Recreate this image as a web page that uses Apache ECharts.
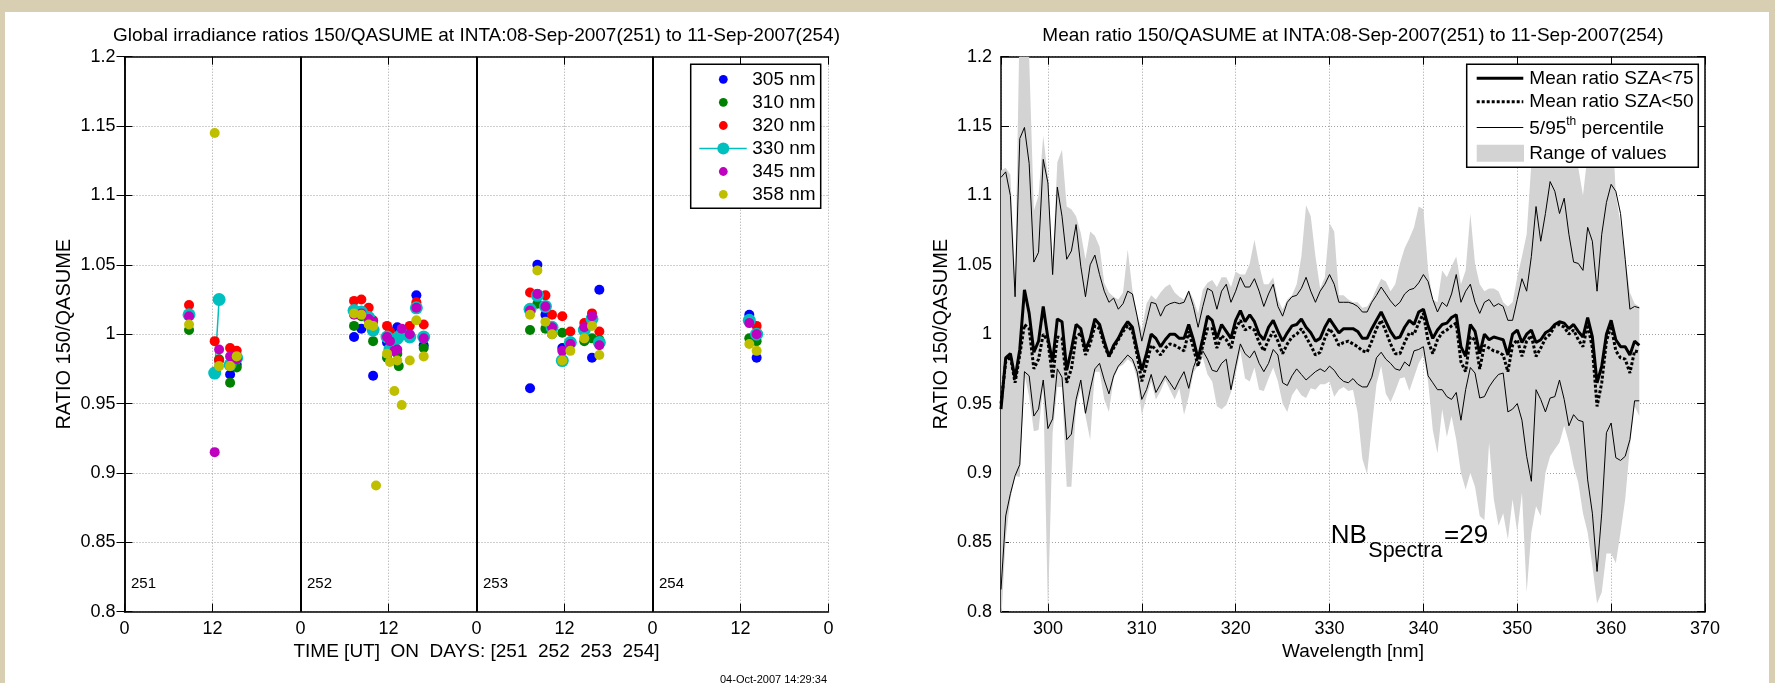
<!DOCTYPE html>
<html><head><meta charset="utf-8">
<script src="https://cdn.jsdelivr.net/npm/echarts@6/dist/echarts.min.js"></script>
<style>html,body{margin:0;padding:0;background:#d8ceb2;}#c{width:1775px;height:683px;}</style>
</head><body><div id="c"></div>
<script>
// ---------- LEFT PANEL DATA: [hour since start of day 251, ratio] ----------
const dayNames = ['251','252','253','254'];
const daySeparators = [24, 48, 72];
const timeTickLabels = ['0','12'];
const s305 = [[8.8,1.013],[14.4,0.971],[15.3,0.978],[31.3,0.998],[32.3,1.004],[33.9,0.970],[35.8,0.994],[36.2,0.992],[37.2,1.005],[39.8,1.028],[40.8,0.992],[55.3,0.961],[56.3,1.050],[57.4,1.014],[59.7,0.990],[63.75,0.983],[64.75,1.032],[85.2,1.014],[86.2,0.983]];
const s310 = [[8.8,1.003],[12.9,0.982],[14.4,0.965],[15.3,0.976],[31.3,1.006],[32.3,1.013],[33.9,0.995],[35.8,0.983],[36.8,0.988],[37.2,0.986],[37.4,0.977],[40.8,0.990],[55.3,1.003],[56.3,1.022],[57.4,1.004],[58.3,1.000],[59.7,1.001],[62.7,0.995],[63.75,0.997],[64.75,0.996],[85.2,0.997],[86.2,0.995]];
const s320 = [[8.8,1.021],[12.3,0.995],[12.9,0.981],[14.4,0.990],[15.3,0.988],[31.3,1.024],[32.3,1.025],[33.3,1.019],[33.9,1.010],[35.8,1.006],[36.2,1.002],[36.8,0.991],[38.9,1.006],[39.8,1.023],[40.8,1.007],[55.3,1.030],[56.3,1.029],[57.4,1.028],[58.3,1.014],[59.7,1.013],[60.8,1.002],[62.7,1.008],[63.75,1.015],[64.75,1.002],[86.2,1.006]];
const s330 = [[8.8,1.014],[null,null],[12.3,0.972],[12.9,1.025],[null,null],[14.4,0.978],[null,null],[15.3,0.983],[null,null],
  [31.3,1.017],[null,null],[32.3,1.016],[null,null],[33.3,1.012],[null,null],[33.9,1.003],[null,null],[35.8,0.998],[null,null],[36.2,0.989],[null,null],[36.8,0.996],[null,null],[37.2,0.997],[null,null],[37.8,1.000],[null,null],[38.9,0.998],[null,null],[39.8,1.019],[null,null],[40.8,0.998],[null,null],
  [55.3,1.018],[null,null],[56.3,1.028],[null,null],[57.4,1.020],[null,null],[58.3,1.005],[null,null],[59.7,0.981],[null,null],[60.8,0.994],[null,null],[62.7,1.003],[null,null],[63.75,1.011],[null,null],[64.75,0.994],[null,null],
  [85.2,1.010],[null,null],[86.2,1.000]];
const s345 = [[8.8,1.013],[12.3,0.915],[12.9,0.989],[14.4,0.984],[15.3,0.982],[31.3,1.014],[32.3,1.015],[33.3,1.011],[33.9,1.009],[35.8,0.998],[36.2,0.995],[36.8,0.988],[37.2,0.989],[37.8,1.004],[38.9,1.000],[39.8,1.019],[40.8,0.997],[55.3,1.017],[56.3,1.029],[57.4,1.020],[58.3,1.005],[59.7,0.988],[60.8,0.993],[62.7,1.005],[63.75,1.013],[64.75,0.992],[85.2,1.008],[86.2,1.000]];
const s358 = [[8.8,1.007],[12.3,1.145],[12.9,0.977],[14.4,0.977],[15.3,0.984],[31.3,1.015],[32.3,1.014],[33.3,1.007],[33.9,1.006],[34.3,0.891],[35.8,0.986],[36.2,0.980],[36.8,0.959],[37.2,0.981],[37.8,0.949],[38.9,0.981],[39.8,1.010],[40.8,0.984],[55.3,1.014],[56.3,1.046],[57.4,1.009],[58.3,1.000],[59.7,0.981],[60.8,0.988],[62.7,0.997],[63.75,1.006],[64.75,0.985],[85.2,0.993],[86.2,0.988]];
const leftNames = ['305 nm','310 nm','320 nm','330 nm','345 nm','358 nm'];
const leftColors = ['#0000ff','#008000','#ff0000','#00bfbf','#bf00bf','#bfbf00'];

// ---------- RIGHT PANEL DATA ----------
const wl = [295,295.5,296,296.5,297,297.5,298,298.5,299,299.5,300,300.5,301,301.5,302,302.5,303,303.5,304,304.5,305,305.5,306,306.5,307,307.5,308,308.5,309,309.5,310,310.5,311,311.5,312,312.5,313,313.5,314,314.5,315,315.5,316,316.5,317,317.5,318,318.5,319,319.5,320,320.5,321,321.5,322,322.5,323,323.5,324,324.5,325,325.5,326,326.5,327,327.5,328,328.5,329,329.5,330,330.5,331,331.5,332,332.5,333,333.5,334,334.5,335,335.5,336,336.5,337,337.5,338,338.5,339,339.5,340,340.5,341,341.5,342,342.5,343,343.5,344,344.5,345,345.5,346,346.5,347,347.5,348,348.5,349,349.5,350,350.5,351,351.5,352,352.5,353,353.5,354,354.5,355,355.5,356,356.5,357,357.5,358,358.5,359,359.5,360,360.5,361,361.5,362,362.5,363];
const mean75 = [0.946,0.983,0.986,0.968,0.989,1.032,1.015,0.987,0.995,1.020,
0.997,0.980,1.011,1.009,0.974,0.989,1.007,1.004,0.989,0.997,
1.011,1.007,0.995,0.984,0.992,0.997,1.004,1.009,1.005,0.989,
0.974,0.986,1.000,0.997,0.991,0.996,1.000,1.000,0.997,0.997,
1.007,0.996,0.982,0.997,1.013,1.010,0.997,1.007,1.002,0.997,
1.010,1.017,1.009,1.014,1.009,1.000,0.996,1.005,1.010,1.002,
0.995,1.001,1.006,1.007,1.011,1.005,1.001,0.995,0.997,1.005,
1.011,1.006,1.001,1.004,1.004,1.004,1.002,0.997,0.997,1.004,
1.010,1.016,1.009,1.002,0.997,0.998,1.005,1.010,1.007,1.016,
1.018,1.006,0.997,1.003,1.007,1.008,1.012,1.014,0.991,0.984,
1.007,1.002,0.986,1.000,0.996,0.998,0.997,0.996,0.985,1.000,
1.003,0.994,1.000,1.003,0.994,0.996,1.001,1.003,1.007,1.009,
1.008,1.004,1.007,1.002,0.998,1.012,0.998,0.965,0.977,1.000,
1.010,0.996,0.991,0.991,0.985,0.995,0.992];
const mean50 = [0.950,0.980,0.984,0.965,0.985,1.007,1.004,0.975,0.982,1.000,
0.995,0.968,0.998,0.997,0.965,0.975,0.998,1.001,0.985,0.993,
1.006,1.004,0.992,0.984,0.990,0.996,1.002,1.006,1.002,0.985,
0.966,0.978,0.992,0.989,0.985,0.990,0.993,0.992,0.990,0.988,
1.002,0.990,0.977,0.992,1.004,1.004,0.990,0.999,0.996,0.990,
1.004,1.010,1.003,1.005,1.003,0.994,0.988,0.996,1.002,0.995,
0.986,0.993,0.998,1.000,1.004,0.998,0.992,0.985,0.987,0.997,
1.004,0.999,0.992,0.994,0.995,0.993,0.991,0.988,0.987,0.995,
1.004,1.010,1.002,0.993,0.986,0.986,0.994,1.001,1.000,1.008,
1.015,0.995,0.986,0.996,1.001,1.003,1.006,1.008,0.980,0.973,
0.998,0.996,0.975,0.992,0.990,0.988,0.987,0.985,0.973,0.992,
0.996,0.984,0.995,0.999,0.984,0.990,0.997,1.000,1.006,1.007,
1.005,1.000,1.003,0.996,0.991,1.007,0.990,0.948,0.965,0.995,
1.006,0.988,0.983,0.982,0.972,0.988,0.987];
const pct5 = [0.816,0.869,0.885,0.898,0.906,0.973,0.970,0.941,0.946,0.967,
0.932,0.939,0.975,0.969,0.924,0.928,0.953,0.967,0.943,0.960,
0.975,0.979,0.967,0.957,0.970,0.977,0.981,0.985,0.982,0.973,
0.953,0.960,0.971,0.958,0.964,0.970,0.965,0.960,0.967,0.973,
0.961,0.976,0.985,0.988,0.982,0.974,0.973,0.979,0.982,0.960,
0.977,0.993,0.986,0.983,0.988,0.979,0.973,0.979,0.989,0.985,
0.965,0.963,0.970,0.975,0.971,0.967,0.970,0.973,0.975,0.973,
0.977,0.974,0.969,0.966,0.965,0.968,0.964,0.962,0.962,0.969,
0.983,0.987,0.982,0.979,0.975,0.974,0.980,0.977,0.988,0.989,
0.991,0.970,0.965,0.960,0.960,0.955,0.953,0.958,0.938,0.960,
0.976,0.972,0.954,0.955,0.962,0.967,0.971,0.972,0.944,0.946,
0.950,0.938,0.912,0.894,0.960,0.953,0.944,0.954,0.955,0.967,
0.953,0.934,0.942,0.938,0.937,0.895,0.871,0.829,0.871,0.929,
0.936,0.911,0.909,0.912,0.924,0.952,0.952];
const pct95 = [1.113,1.117,1.100,1.027,1.141,1.149,1.123,1.052,1.059,1.126,
1.109,1.043,1.106,1.085,1.054,1.060,1.079,1.049,1.027,1.050,
1.057,1.043,1.031,1.023,1.026,1.018,1.022,1.031,1.029,1.013,
0.995,1.009,1.023,1.022,1.013,1.020,1.022,1.023,1.022,1.023,
1.031,1.020,1.005,1.020,1.033,1.031,1.018,1.031,1.036,1.023,
1.031,1.041,1.034,1.034,1.040,1.031,1.020,1.029,1.036,1.020,
1.013,1.023,1.027,1.028,1.033,1.041,1.031,1.023,1.031,1.036,
1.043,1.036,1.023,1.023,1.023,1.022,1.020,1.016,1.016,1.023,
1.028,1.034,1.029,1.024,1.020,1.023,1.029,1.032,1.033,1.037,
1.043,1.038,1.025,1.016,1.023,1.020,1.029,1.043,1.023,1.031,
1.036,1.023,1.015,1.023,1.025,1.020,1.022,1.020,1.010,1.010,
1.025,1.040,1.031,1.056,1.092,1.067,1.087,1.110,1.103,1.087,
1.098,1.072,1.052,1.051,1.046,1.077,1.067,1.031,1.072,1.095,
1.108,1.103,1.087,1.054,1.018,1.020,1.019];
const rangeMax = [1.118,1.120,1.115,1.040,1.230,1.250,1.200,1.089,1.100,1.143,
1.113,1.051,1.124,1.133,1.092,1.090,1.085,1.073,1.054,1.074,
1.071,1.063,1.037,1.030,1.027,1.025,1.030,1.061,1.032,1.014,
1.003,1.022,1.028,1.025,1.030,1.034,1.036,1.030,1.027,1.025,
1.032,1.025,1.015,1.032,1.037,1.039,1.034,1.041,1.041,1.034,
1.045,1.043,1.043,1.051,1.068,1.050,1.036,1.036,1.041,1.025,
1.018,1.025,1.028,1.036,1.056,1.093,1.085,1.056,1.033,1.041,
1.080,1.074,1.028,1.028,1.025,1.023,1.023,1.019,1.020,1.025,
1.033,1.040,1.038,1.031,1.036,1.051,1.062,1.069,1.077,1.092,
1.090,1.046,1.025,1.023,1.046,1.041,1.049,1.056,1.036,1.046,
1.087,1.051,1.036,1.031,1.033,1.033,1.031,1.023,1.020,1.023,
1.041,1.056,1.072,1.123,1.162,1.149,1.162,1.175,1.170,1.160,
1.170,1.150,1.120,1.120,1.100,1.130,1.140,1.130,1.160,1.170,
1.170,1.100,1.080,1.055,1.030,1.022,1.020];
const rangeMin = [0.790,0.852,0.881,0.898,0.897,0.971,0.955,0.930,0.931,0.962,
0.800,0.929,0.962,0.962,0.890,0.890,0.948,0.961,0.941,0.924,
0.973,0.973,0.953,0.944,0.968,0.976,0.978,0.982,0.979,0.968,
0.942,0.955,0.966,0.953,0.959,0.967,0.960,0.953,0.961,0.942,
0.955,0.972,0.978,0.983,0.971,0.966,0.948,0.946,0.949,0.958,
0.971,0.988,0.968,0.966,0.976,0.960,0.959,0.968,0.976,0.966,
0.950,0.944,0.956,0.961,0.956,0.954,0.961,0.960,0.964,0.964,
0.966,0.955,0.960,0.962,0.959,0.960,0.943,0.910,0.899,0.933,
0.964,0.977,0.957,0.951,0.959,0.968,0.969,0.959,0.969,0.979,
0.985,0.966,0.931,0.914,0.946,0.926,0.941,0.924,0.900,0.888,
0.900,0.890,0.869,0.866,0.922,0.881,0.862,0.871,0.852,0.881,
0.857,0.886,0.814,0.857,0.876,0.869,0.900,0.912,0.917,0.922,
0.934,0.922,0.905,0.893,0.871,0.857,0.833,0.806,0.814,0.842,
0.842,0.835,0.857,0.881,0.919,0.948,0.941];
const nbSpectra = 29;

// ---------- LAYOUT ----------
const FONT = "'Liberation Sans', Arial, Helvetica, sans-serif";
const G0 = {left:124.5, top:56.7, width:704, height:555};
const G1 = {left:1001, top:56.7, width:704, height:555};
const gridLineStyle = {color:'#a0a0a0', type:[1,2], width:1};
const axisLineStyle = {color:'#000', width:1.5};

function yAx(gridIndex, pos, main){
  return {type:'value', gridIndex, position:pos, min:0.8, max:1.2, interval:0.05,
    axisLine:{show:true, lineStyle:axisLineStyle},
    axisTick:{show:true, inside:true, length:8, lineStyle:{color:'#000', width:1}},
    axisLabel:{show:main, color:'#000', fontSize:18, fontFamily:FONT, margin:9},
    splitLine:{show:main, lineStyle:gridLineStyle},
    name: main ? 'RATIO 150/QASUME' : '', nameLocation:'middle', nameGap:50,
    nameTextStyle:{color:'#000', fontSize:20, fontFamily:FONT}};
}
function xAxLeft(pos, main){
  return {type:'value', gridIndex:0, position:pos, min:0, max:96, interval:12,
    axisLine:{show:true, onZero:false, lineStyle:axisLineStyle},
    axisTick:{show:true, inside:true, length:8, lineStyle:{color:'#000', width:1}},
    axisLabel:{show:main, color:'#000', fontSize:18, fontFamily:FONT, margin:8,
      formatter: v => (v % 24 === 0) ? timeTickLabels[0] : timeTickLabels[1]},
    splitLine:{show:main, lineStyle:gridLineStyle},
    name: main ? 'TIME [UT]  ON  DAYS: [' + dayNames.join('  ') + ']' : '', nameLocation:'middle', nameGap:30,
    nameTextStyle:{color:'#000', fontSize:19, fontFamily:FONT}};
}
function xAxRight(pos, main){
  return {type:'value', gridIndex:1, position:pos, min:295, max:370, splitNumber:8,
    axisLine:{show:true, onZero:false, lineStyle:axisLineStyle},
    axisTick:{show:true, inside:true, length:8, lineStyle:{color:'#000', width:1}},
    axisLabel:{show:main, showMinLabel:false, color:'#000', fontSize:18, fontFamily:FONT, margin:8},
    splitLine:{show:main, lineStyle:gridLineStyle},
    name: main ? 'Wavelength [nm]' : '', nameLocation:'middle', nameGap:30,
    nameTextStyle:{color:'#000', fontSize:19, fontFamily:FONT}};
}

const leftData = [s305, s310, s320, s330, s345, s358];
const series = [];
leftData.forEach((d, k) => {
  if (k === 3) {
    series.push({type:'line', name:leftNames[k], xAxisIndex:0, yAxisIndex:0, data:d,
      symbol:'circle', symbolSize:13, showSymbol:true, connectNulls:false,
      itemStyle:{color:leftColors[k], opacity:1}, lineStyle:{color:leftColors[k], width:1.5},
      z:3, animation:false});
  } else {
    const s = {type:'scatter', name:leftNames[k], xAxisIndex:0, yAxisIndex:0, data:d,
      symbol:'circle', symbolSize:10, itemStyle:{color:leftColors[k], opacity:1}, z:3, animation:false};
    if (k === 0) {
      s.markLine = {silent:true, symbol:['none','none'], label:{show:false}, animation:false,
        lineStyle:{color:'#000', width:2, type:'solid'},
        data: daySeparators.map(v => ({xAxis:v}))};
    }
    series.push(s);
  }
});
const pair = arr => wl.map((w, i) => [w, arr[i]]);
// gray "range of values" band: polygon from max (left->right) and min (right->left) through the axis scales
series.push({type:'custom', name:'Range of values', xAxisIndex:2, yAxisIndex:2, clip:true, silent:true, z:1,
  data:[[wl[0], rangeMin[0]]],
  renderItem: function(params, api){
    const up = wl.map((w, i) => api.coord([w, rangeMax[i]]));
    const lo = wl.map((w, i) => api.coord([w, rangeMin[i]])).reverse();
    return {type:'polygon', shape:{points: up.concat(lo)}, style:{fill:'#d3d3d3', stroke:null}};
  }});
series.push({type:'line', name:'5th percentile', xAxisIndex:2, yAxisIndex:2, data:pair(pct5),
  symbol:'none', lineStyle:{color:'#000', width:1}, z:2});
series.push({type:'line', name:'95th percentile', xAxisIndex:2, yAxisIndex:2, data:pair(pct95),
  symbol:'none', lineStyle:{color:'#000', width:1}, z:2});
series.push({type:'line', name:'Mean ratio SZA<75', xAxisIndex:2, yAxisIndex:2, data:pair(mean75),
  symbol:'none', lineStyle:{color:'#000', width:3}, z:3});
series.push({type:'line', name:'Mean ratio SZA<50', xAxisIndex:2, yAxisIndex:2, data:pair(mean50),
  symbol:'none', lineStyle:{color:'#000', width:3, type:[3,2]}, z:4});

// ---------- GRAPHIC (legends, annotations) ----------
const graphic = [];
graphic.push({type:'rect', z:-100, silent:true, shape:{x:5, y:12, width:1764, height:671}, style:{fill:'#ffffff'}});
dayNames.forEach((d, k) => {
  graphic.push({type:'text', z:50, style:{text:d, x:G0.left + k * G0.width / 4 + 6.5, y:584, fill:'#000',
    font:'15px ' + FONT, verticalAlign:'middle'}});
});
const LL = {x:690.7, y:64.3, w:130, h:144};
graphic.push({type:'rect', z:60, shape:{x:LL.x, y:LL.y, width:LL.w, height:LL.h},
  style:{fill:'#fff', stroke:'#000', lineWidth:1.5}});
const lRows = [79.3, 102.3, 125.5, 148.5, 171.5, 194.3];
leftNames.forEach((n, k) => {
  if (k === 3) {
    graphic.push({type:'line', z:61, shape:{x1:699.3, y1:lRows[k], x2:746.7, y2:lRows[k]}, style:{stroke:leftColors[k], lineWidth:1.5}});
    graphic.push({type:'circle', z:62, shape:{cx:723.3, cy:lRows[k], r:6}, style:{fill:leftColors[k]}});
  } else {
    graphic.push({type:'circle', z:62, shape:{cx:723.3, cy:lRows[k], r:4.4}, style:{fill:leftColors[k]}});
  }
  graphic.push({type:'text', z:62, style:{text:n, x:752.3, y:lRows[k], fill:'#000', font:'19px ' + FONT, verticalAlign:'middle'}});
});
const RL = {x:1466.7, y:64.3, w:231.6, h:103};
graphic.push({type:'rect', z:60, shape:{x:RL.x, y:RL.y, width:RL.w, height:RL.h},
  style:{fill:'#fff', stroke:'#000', lineWidth:1.5}});
const rRows = [78.3, 101.7, 129, 153.3];
graphic.push({type:'line', z:61, shape:{x1:1476.7, y1:rRows[0], x2:1523.3, y2:rRows[0]}, style:{stroke:'#000', lineWidth:3}});
graphic.push({type:'line', z:61, shape:{x1:1476.7, y1:rRows[1], x2:1523.3, y2:rRows[1]}, style:{stroke:'#000', lineWidth:3, lineDash:[3,2]}});
graphic.push({type:'line', z:61, shape:{x1:1476.7, y1:rRows[2] - 1.5, x2:1523.3, y2:rRows[2] - 1.5}, style:{stroke:'#000', lineWidth:1}});
graphic.push({type:'rect', z:61, shape:{x:1476.7, y:rRows[3] - 8.5, width:47.3, height:17}, style:{fill:'#d3d3d3'}});
graphic.push({type:'text', z:62, style:{text:'Mean ratio SZA<75', x:1529.3, y:rRows[0], fill:'#000', font:'19px ' + FONT, verticalAlign:'middle'}});
graphic.push({type:'text', z:62, style:{text:'Mean ratio SZA<50', x:1529.3, y:rRows[1], fill:'#000', font:'19px ' + FONT, verticalAlign:'middle'}});
graphic.push({type:'text', z:62, style:{text:'5/95{sup|th} percentile', x:1529.3, y:rRows[2], fill:'#000',
  fontSize:19, fontFamily:FONT, verticalAlign:'middle', lineHeight:26,
  rich:{sup:{fontSize:12, fontFamily:FONT, lineHeight:12, verticalAlign:'top', fill:'#000'}}}});
graphic.push({type:'text', z:62, style:{text:'Range of values', x:1529.3, y:rRows[3], fill:'#000', font:'19px ' + FONT, verticalAlign:'middle'}});
graphic.push({type:'text', z:50, style:{text:'NB', x:1330.7, y:536, fill:'#000', font:'26px ' + FONT, verticalAlign:'middle'}});
graphic.push({type:'text', z:50, style:{text:'Spectra', x:1368.3, y:551, fill:'#000', font:'21.5px ' + FONT, verticalAlign:'middle'}});
graphic.push({type:'text', z:50, style:{text:'=' + nbSpectra, x:1444, y:536, fill:'#000', font:'26px ' + FONT, verticalAlign:'middle'}});
graphic.push({type:'text', z:50, style:{text:'04-Oct-2007 14:29:34', x:720, y:674, fill:'#000', font:'11px ' + FONT, verticalAlign:'top'}});

const option = {
  animation:false,
  backgroundColor:'#d8ceb2',
  textStyle:{fontFamily:FONT},
  title:[
    {text:'Global irradiance ratios 150/QASUME at INTA:08-Sep-2007(251) to 11-Sep-2007(254)', left:G0.left + G0.width/2, textAlign:'center', top:26, padding:0,
      textStyle:{fontSize:19, fontWeight:'normal', color:'#000', fontFamily:FONT}},
    {text:'Mean ratio 150/QASUME at INTA:08-Sep-2007(251) to 11-Sep-2007(254)', left:G1.left + G1.width/2, textAlign:'center', top:26, padding:0,
      textStyle:{fontSize:19, fontWeight:'normal', color:'#000', fontFamily:FONT}}
  ],
  grid:[
    {left:G0.left, top:G0.top, width:G0.width, height:G0.height, show:true, backgroundColor:'#fff', borderWidth:0},
    {left:G1.left, top:G1.top, width:G1.width, height:G1.height, show:true, backgroundColor:'#fff', borderWidth:0}
  ],
  xAxis:[xAxLeft('bottom', true), xAxLeft('top', false), xAxRight('bottom', true), xAxRight('top', false)],
  yAxis:[yAx(0,'left',true), yAx(0,'right',false), yAx(1,'left',true), yAx(1,'right',false)],
  series,
  graphic
};
const chart = echarts.init(document.getElementById('c'), null, {renderer:'canvas'});
chart.setOption(option);
</script></body></html>
